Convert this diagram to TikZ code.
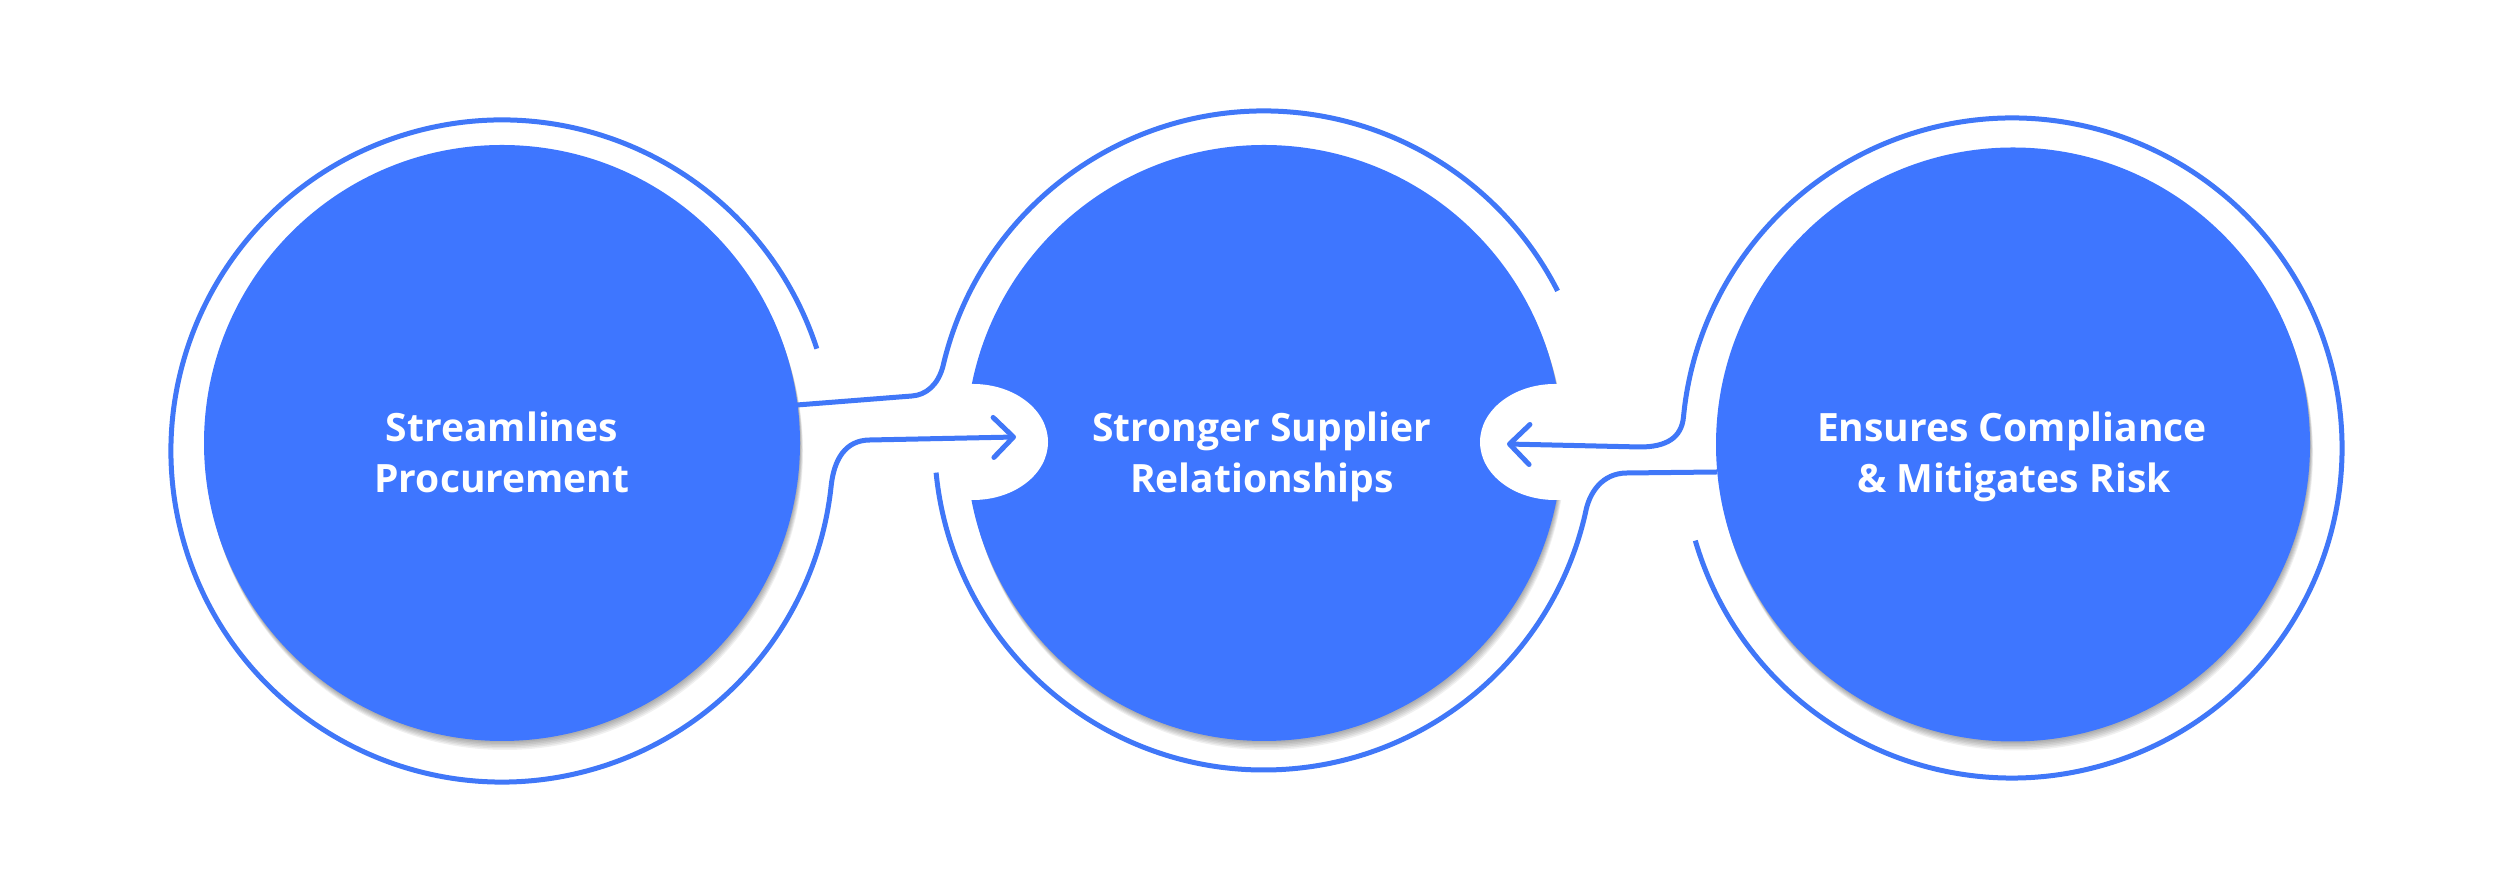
\documentclass[tikz,border=0pt]{standalone}
\usepackage{fontspec}
\setmainfont{Open Sans}
\usetikzlibrary{arrows.meta,calc}
\definecolor{mainblue}{RGB}{62,118,255}
\definecolor{ringblue}{RGB}{64,119,248}
\begin{document}
\begin{tikzpicture}[x=1pt,y=1pt,
  disc/.style={circle, fill=mainblue, inner sep=0pt, minimum size=#1},
  ring/.style={draw=ringblue, line width=5pt},
  notch/.style={fill=white},
  txt/.style={text=white, font=\fontsize{39}{49}\selectfont\bfseries, anchor=base, inner sep=0pt},
  tip/.style={-{Straight Barb[length=20pt,width=40pt,round]}}]
\useasboundingbox[fill=white] (0,0) rectangle (2500,890);
% centres
\coordinate (c1) at (502,447);
\coordinate (c2) at (1264,447);
\coordinate (c3) at (2013,445.5);
\coordinate (r1) at (502,439);
\coordinate (r2) at (1264,449.5);
\coordinate (r3) at (2012,442);
% shadows
\foreach \cx/\cy/\rr in {502/447/298, 1264/447/298, 2013/445.5/297}{
  \foreach \k in {1,...,6}{
    \fill[black, opacity=0.06] (\cx+0.5*\k,\cy-1.5*\k) circle (\rr);
  }
}
% discs
\node[disc=596pt] (d1) at (c1) {};
\node[disc=596pt] (d2) at (c2) {};
\node[disc=594pt] (d3) at (c3) {};
% notches in the middle disc
\fill[notch] (973,448) ellipse [x radius=75, y radius=58];
\fill[notch] (1555,448) ellipse [x radius=75, y radius=58];
% rings and connectors
\coordinate (e1) at (797,485);
\coordinate (e3) at (1717,418);
\coordinate (tip12) at (1016,453);
\coordinate (tip32) at (1507,446);
\draw[ring, tip] ($(r1)+(18:331)$) arc[start angle=18, end angle=354, radius=331]
  .. controls (834,430) and (845,450) .. (870,450) -- (tip12);
\draw[ring] (e1) -- (912,494) .. controls (926,495) and (938,505) .. ($(r2)+(167:329.5)$)
  arc[start angle=167, end angle=27, radius=329.5];
\draw[ring] ($(r2)+(185.6:329.5)$) arc[start angle=185.6, end angle=347.3, radius=329.5]
  .. controls (1589,397) and (1602,417) .. (1627,417) -- (e3);
\draw[ring, tip] ($(r3)+(196.3:330)$) arc[start angle=196.3, end angle=534.6, radius=330]
  .. controls (1681.5,452) and (1666,443) .. (1640,443) -- (tip32);
% texts
\node[txt] (t1a) at (502,448) {Streamlines};
\node[txt] (t1b) at (502,397) {Procurement};
\node[txt] (t2a) at (1262,448) {Stronger Supplier};
\node[txt] (t2b) at (1262,397) {Relationships};
\node[txt] (t3a) at (2012,448) {Ensures Compliance};
\node[txt] (t3b) at (2014,397) {\& Mitigates Risk};
\end{tikzpicture}
\end{document}
